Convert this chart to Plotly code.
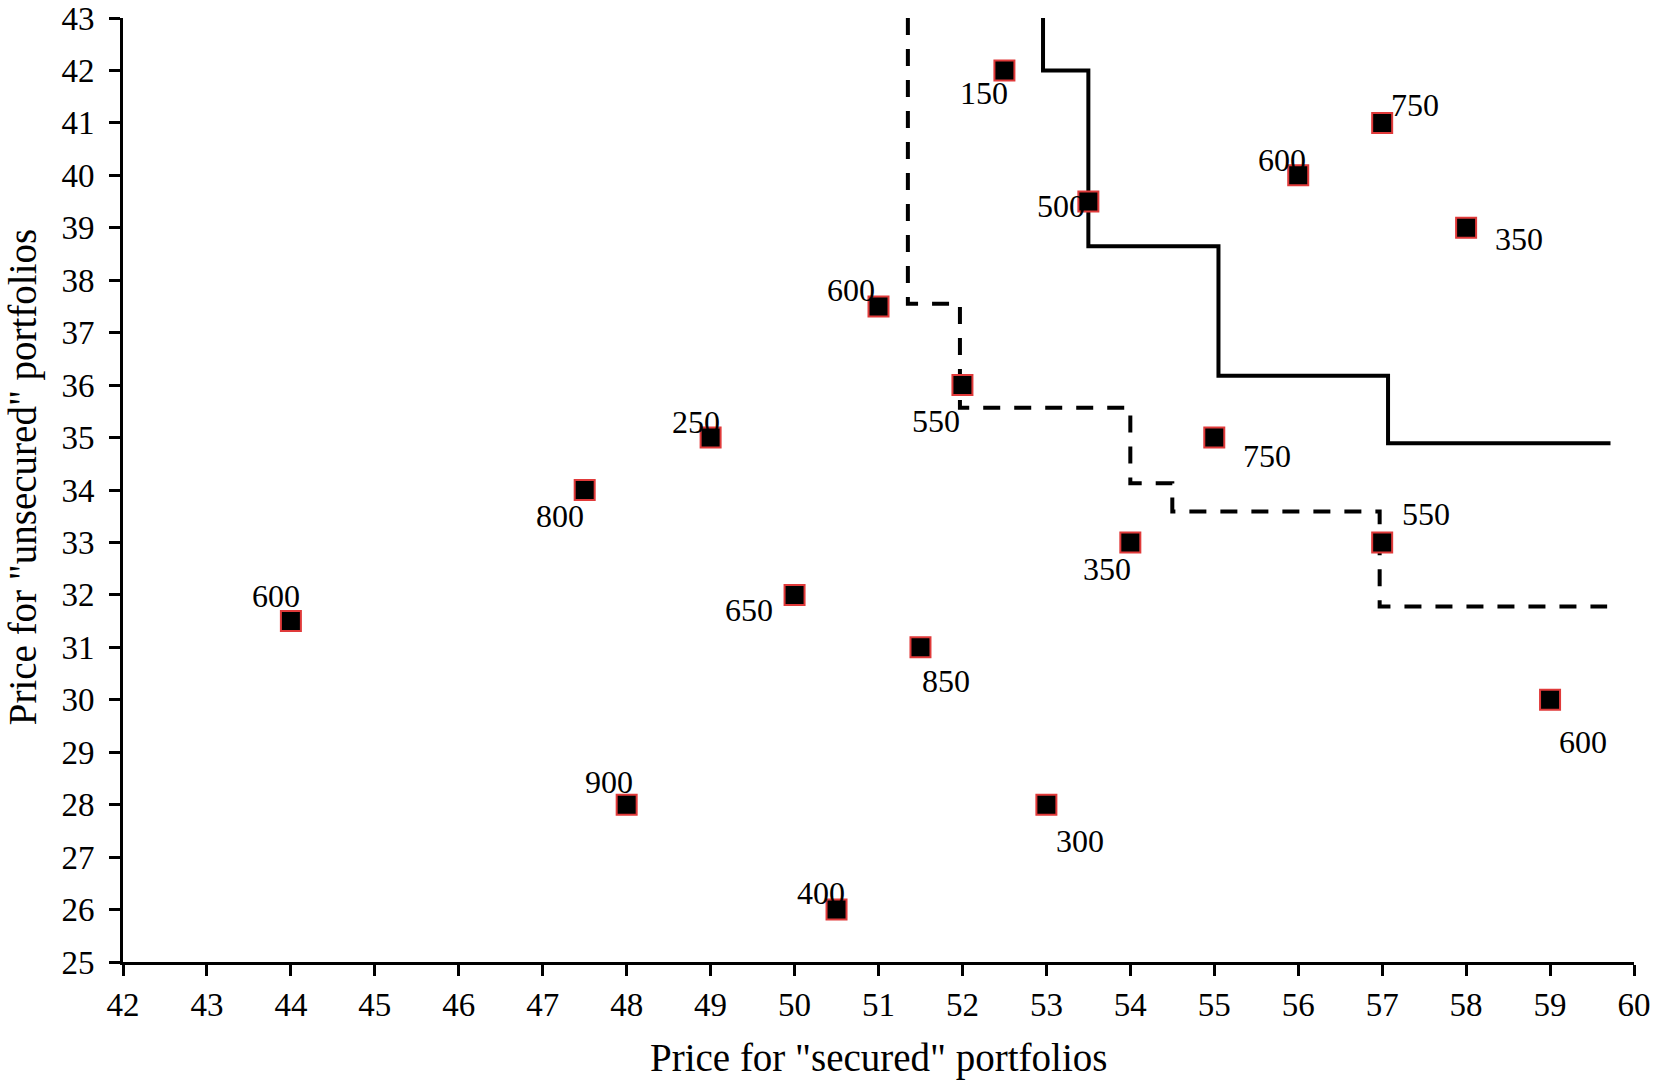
import plotly.graph_objects as go

# Data points: price for secured (x), unsecured (y), and quantity label
secured = [52.5, 57, 56, 53.5, 58, 51, 52, 49, 55, 47.5, 57, 54, 44, 50, 51.5, 59, 48, 53, 50.5]
unsecured = [42, 41, 40, 39.5, 39, 37.5, 36, 35, 35, 34, 33, 33, 31.5, 32, 31, 30, 28, 28, 26]
quantities = ["150", "750", "600", "500", "350", "600", "550", "250", "750", "800",
              "550", "350", "600", "650", "850", "600", "900", "300", "400"]

# Step-line vertices (vertical-then-horizontal steps)
solid_x = [52.96, 53.5, 55.05, 57.07, 59.72]
solid_y = [43.0, 42.0, 38.65, 36.18, 34.89]
dashed_x = [51.35, 51.97, 54.0, 54.5, 56.97, 59.68]
dashed_y = [43.0, 37.55, 35.57, 34.13, 33.59, 31.78]

x_ticks = list(range(42, 61))
y_ticks = list(range(25, 44))

x_title = 'Price for "secured" portfolios'
y_title = 'Price for "unsecured" portfolios'

# label pixel offsets (dx right, dy down) relative to each marker
label_offsets = [(-20, 23), (33, -18), (-16, -15), (-27, 4), (53, 11), (-28, -16),
                 (-26, 36), (-15, -16), (53, 18), (-25, 26), (44, -28), (-23, 27),
                 (-15, -25), (-46, 15), (26, 34), (33, 42), (-18, -23), (34, 36), (-16, -17)]

FONT = "Liberation Serif"

fig = go.Figure()
fig.add_trace(go.Scatter(x=solid_x, y=solid_y, mode="lines", line_shape="vh",
                         line=dict(color="black", width=4), hoverinfo="skip"))
fig.add_trace(go.Scatter(x=dashed_x, y=dashed_y, mode="lines", line_shape="vh",
                         line=dict(color="black", width=4, dash="17px,14px"), hoverinfo="skip"))
fig.add_trace(go.Scatter(x=secured, y=unsecured, mode="markers",
                         marker=dict(symbol="square", size=20, color="black",
                                     line=dict(color="#e03a3a", width=2))))

for xv, yv, txt, (dx, dy) in zip(secured, unsecured, quantities, label_offsets):
    fig.add_annotation(x=xv, y=yv, text=txt, showarrow=False, xshift=dx, yshift=-dy,
                       xanchor="center", yanchor="middle",
                       font=dict(family=FONT, size=32, color="black"))

# axis titles
fig.add_annotation(xref="paper", yref="paper", x=0.5, y=-0.1014, text=x_title,
                   showarrow=False, xanchor="center", yanchor="middle",
                   font=dict(family=FONT, size=39, color="black"))
fig.add_annotation(xref="paper", yref="paper", x=-0.0665, y=0.513, text=y_title,
                   showarrow=False, xanchor="center", yanchor="middle", textangle=-90,
                   font=dict(family=FONT, size=39, color="black"))

axis_common = dict(showline=True, linecolor="black", linewidth=3, ticks="outside",
                   ticklen=11, tickwidth=2.5, tickcolor="black", showgrid=False,
                   zeroline=False, ticklabeloverflow="allow", automargin=False,
                   tickfont=dict(family=FONT, size=33, color="black"))

fig.update_layout(
    width=1654, height=1083, showlegend=False,
    paper_bgcolor="white", plot_bgcolor="white",
    margin=dict(l=123, r=20, t=18, b=121),
    xaxis=dict(range=[42, 60], tickvals=x_ticks, ticktext=[str(v) for v in x_ticks],
               **axis_common),
    yaxis=dict(range=[25, 43], tickvals=y_ticks, ticktext=[str(v) for v in y_ticks],
               ticklabelstandoff=8, **axis_common),
)

fig.write_html("out.html", config={"displayModeBar": False},
               post_script="document.body.style.margin='0';document.body.style.overflow='hidden';")
